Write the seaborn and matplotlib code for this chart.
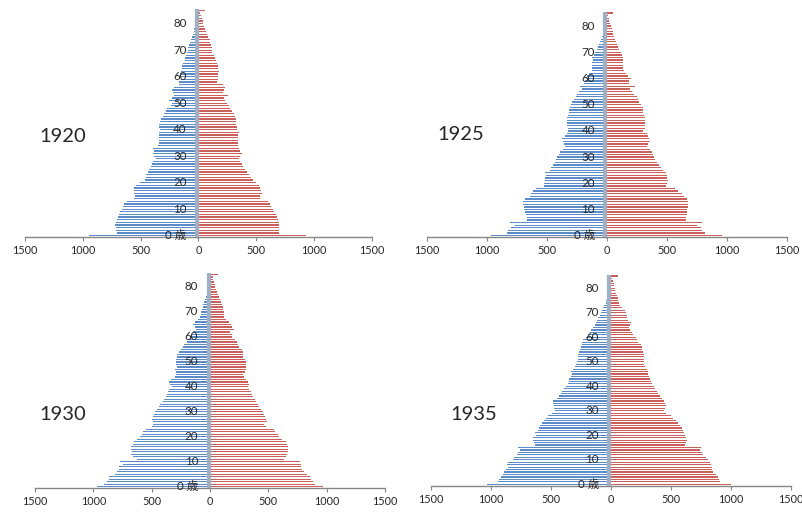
import matplotlib
matplotlib.use("Agg")
import matplotlib.pyplot as plt
import pandas as pd
import seaborn as sns

# ---------------- data ----------------
ages = list(range(86))
years = ["1920", "1925", "1930", "1935"]
age_tick_pos = [0, 10, 20, 30, 40, 50, 60, 70, 80]
age_tick_labels = ["0 歳", "10", "20", "30", "40", "50", "60", "70", "80"]
x_ticks = [-1500, -1000, -500, 0, 500, 1000, 1500]
x_tick_labels = ["1500", "1000", "500", "0", "500", "1000", "1500"]

male_1920 = [950, 705, 710, 715, 720, 712, 705, 700, 690, 680,
             665, 655, 640, 615, 555, 550, 555, 560, 555, 540,
             510, 465, 450, 455, 440, 425, 410, 400, 395, 370,
             385, 395, 385, 390, 350, 340, 340, 345, 340, 345,
             335, 340, 340, 330, 320, 310, 295, 285, 270, 240,
             230, 255, 230, 215, 220, 230, 215, 170, 165, 150,
             155, 160, 150, 145, 140, 130, 120, 115, 105, 100,
             95, 90, 80, 70, 62, 55, 48, 42, 35, 30,
             25, 20, 15, 12, 9, 22]
female_1920 = [930, 695, 698, 700, 697, 692, 688, 680, 667, 655,
               640, 630, 618, 603, 535, 535, 545, 543, 535, 522,
               500, 470, 450, 435, 420, 405, 385, 378, 358, 348,
               362, 375, 362, 350, 340, 340, 342, 340, 345, 350,
               333, 335, 328, 322, 322, 316, 304, 290, 275, 262,
               246, 226, 218, 252, 212, 218, 232, 212, 160, 165,
               168, 172, 177, 172, 165, 160, 148, 142, 130, 120,
               113, 113, 107, 101, 96, 82, 72, 66, 58, 50,
               43, 35, 29, 20, 14, 52]

male_1925 = [967, 834, 820, 798, 765, 806, 660, 667, 672, 680,
             686, 690, 700, 695, 680, 640, 634, 612, 590, 522,
             520, 514, 514, 508, 514, 472, 464, 450, 430, 422,
             417, 397, 389, 367, 347, 353, 367, 375, 347, 334,
             320, 325, 328, 334, 334, 328, 320, 317, 311, 306,
             298, 292, 273, 256, 245, 231, 208, 222, 189, 181,
             172, 161, 145, 125, 122, 120, 120, 117, 120, 105,
             97, 83, 75, 67, 56, 47, 39, 33, 28, 22,
             19, 15, 12, 9, 7, 15]
female_1925 = [959, 820, 792, 787, 756, 795, 662, 662, 667, 673,
               673, 678, 681, 675, 667, 645, 625, 598, 570, 495,
               500, 509, 506, 500, 492, 467, 450, 439, 422, 406,
               398, 389, 375, 361, 334, 347, 361, 356, 347, 334,
               306, 317, 320, 322, 320, 317, 311, 306, 306, 300,
               289, 272, 264, 250, 228, 214, 195, 233, 189, 189,
               203, 181, 161, 147, 139, 136, 136, 136, 133, 125,
               117, 106, 95, 89, 78, 72, 64, 56, 50, 42,
               33, 28, 22, 17, 14, 50]

male_1930 = [971, 908, 886, 863, 868, 814, 794, 777, 777, 749,
             771, 629, 663, 680, 671, 677, 680, 663, 651, 629,
             600, 586, 571, 549, 500, 491, 486, 494, 491, 480,
             471, 451, 434, 429, 406, 391, 380, 366, 357, 349,
             328, 343, 349, 334, 300, 291, 294, 300, 286, 291,
             294, 291, 286, 280, 266, 251, 234, 220, 200, 186,
             163, 157, 143, 120, 129, 143, 129, 100, 86, 77,
             77, 69, 63, 57, 49, 40, 34, 29, 23, 20,
             14, 11, 9, 7, 6, 14]
female_1930 = [966, 900, 880, 863, 857, 829, 806, 786, 780, 777,
               771, 634, 651, 657, 666, 669, 666, 657, 649, 614,
               594, 586, 557, 549, 477, 463, 486, 480, 474, 466,
               454, 437, 423, 409, 391, 383, 371, 357, 349, 334,
               323, 331, 323, 309, 294, 286, 300, 306, 306, 309,
               306, 300, 286, 286, 280, 271, 251, 243, 229, 214,
               191, 186, 171, 209, 186, 177, 166, 134, 123, 120,
               120, 114, 109, 100, 91, 86, 74, 66, 57, 51,
               43, 40, 34, 29, 23, 66]

male_1935 = [1029, 937, 929, 915, 901, 887, 873, 859, 867, 859,
             817, 803, 784, 776, 756, 776, 631, 637, 645, 651,
             623, 631, 609, 598, 587, 570, 553, 539, 520, 487,
             464, 470, 476, 481, 478, 450, 428, 414, 403, 386,
             372, 353, 345, 347, 331, 325, 331, 317, 297, 289,
             278, 275, 272, 270, 264, 256, 250, 242, 236, 228,
             206, 186, 172, 164, 145, 131, 125, 117, 108, 89,
             81, 75, 67, 53, 42, 39, 33, 28, 25, 19,
             14, 12, 10, 8, 6, 14]
female_1935 = [1001, 912, 904, 892, 876, 856, 848, 842, 834, 828,
               809, 792, 773, 765, 745, 753, 620, 625, 634, 628,
               620, 614, 600, 592, 578, 564, 545, 523, 500, 461,
               448, 453, 459, 453, 445, 425, 414, 398, 384, 370,
               364, 342, 334, 328, 322, 309, 314, 300, 286, 281,
               281, 281, 281, 278, 272, 264, 259, 250, 231, 222,
               208, 189, 175, 161, 156, 161, 167, 147, 133, 133,
               125, 120, 92, 78, 70, 64, 59, 50, 45, 39,
               36, 31, 25, 20, 14, 64]

male = {"1920": male_1920, "1925": male_1925, "1930": male_1930, "1935": male_1935}
female = {"1920": female_1920, "1925": female_1925, "1930": female_1930, "1935": female_1935}

rows = []
for y in years:
    for a, m, f in zip(ages, male[y], female[y]):
        rows.append((y, a, "男", -m))
        rows.append((y, a, "女", f))
df = pd.DataFrame(rows, columns=["year", "age", "sex", "value"])

# ---------------- style ----------------
sns.set_theme(style="white")
plt.rcParams["font.family"] = ["Lato", "Noto Sans CJK JP", "DejaVu Sans"]

BLUE = "#5b8cc9"
RED = "#cb5f5c"
AXIS = "#868686"
TXT = "#262626"

W, H = 803, 522
fig = plt.figure(figsize=(W / 100, H / 100), dpi=100)

# pixel geometry of each panel: (x of -1500, x of +1500, y of axis, px per age)
geom = {
    "1920": (25.0, 372.0, 237.0, 2.65),
    "1925": (426.7, 786.7, 237.0, 2.62),
    "1930": (35.0, 385.0, 488.0, 2.497),
    "1935": (430.7, 790.7, 485.5, 2.45),
}
year_pos = {"1920": (63, 137), "1925": (461, 135), "1930": (63, 415), "1935": (474, 415)}

for y in years:
    x0, x1, yb, step = geom[y]
    h = step * 86
    ax = fig.add_axes([x0 / W, (H - yb) / H, (x1 - x0) / W, h / H])
    sub = df[df["year"] == y]
    sns.barplot(data=sub, x="value", y="age", hue="sex", orient="h",
                native_scale=True, dodge=False, width=0.5,
                palette={"男": BLUE, "女": RED}, saturation=1,
                errorbar=None, linewidth=0, legend=False, ax=ax)
    ax.set_xlim(-1500, 1500)
    ax.set_ylim(-0.5, 85.5)
    ax.axvline(-12, color="#9fb0c4", lw=3, zorder=3)

    for s in ["top", "left", "right"]:
        ax.spines[s].set_visible(False)
    ax.spines["bottom"].set_color(AXIS)
    ax.spines["bottom"].set_linewidth(1)

    ax.set_xticks(x_ticks)
    ax.set_xticklabels(x_tick_labels, fontsize=7.8, color=TXT)
    ax.tick_params(axis="x", direction="out", length=3, width=0.8,
                   color=AXIS, pad=3, bottom=True)
    ax.set_yticks([])
    ax.set_xlabel("")
    ax.set_ylabel("")
    ax.patch.set_alpha(0)

    for pos, lab in zip(age_tick_pos, age_tick_labels):
        ax.annotate(lab, xy=(0, pos), xytext=(-8.5, 0), textcoords="offset points",
                    ha="right", va="center", fontsize=8.3, color=TXT, zorder=5)

    px, py = year_pos[y]
    fig.text(px / W, (H - py) / H, y, ha="center", va="center",
             fontsize=14.5, color=TXT)

fig.savefig("out.png", dpi=100)
